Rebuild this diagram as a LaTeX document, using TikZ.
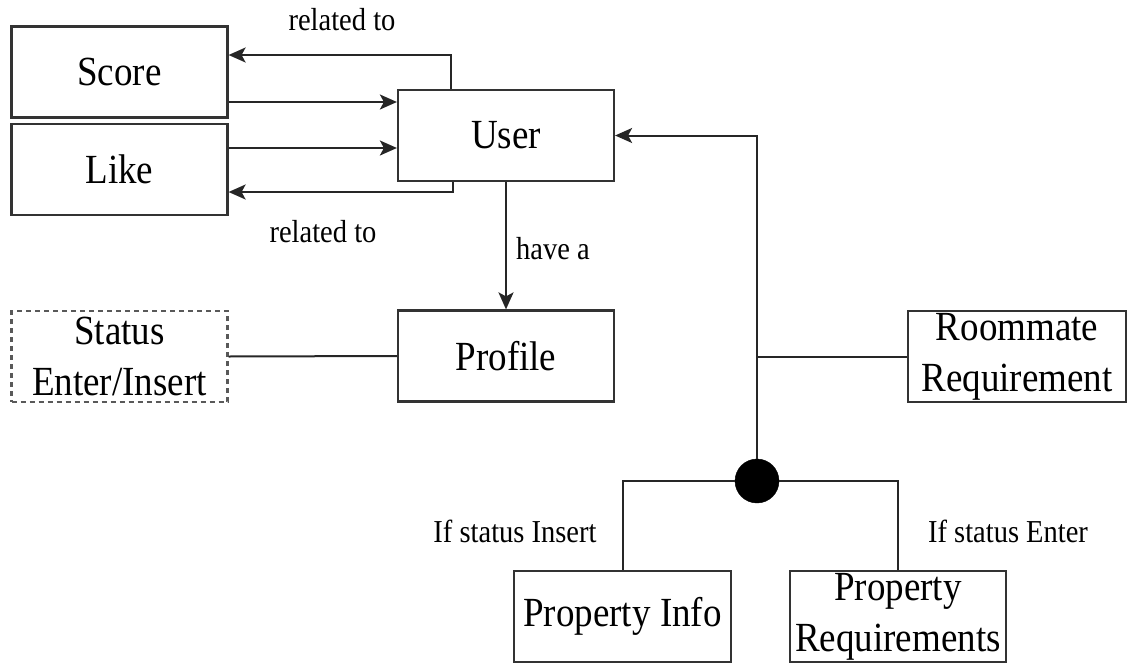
\documentclass[tikz,border=0pt]{standalone}
\usepackage{fontspec}
\setmainfont{Liberation Serif}
\newfontfamily\tnr{Liberation Serif}
\usetikzlibrary{arrows.meta,calc}
\newcommand{\tall}[1]{\scalebox{1}[1.12]{#1}}
\begin{document}
\begin{tikzpicture}[x=1pt,y=-1pt,
  box/.style={draw=black!80,line width=2.2pt,rectangle,minimum width=216pt,minimum height=91pt,
    inner sep=0pt,align=center,font=\tnr\fontsize{37}{51}\selectfont},
  dbox/.style={box,draw=black!65,dash pattern=on 5pt off 4pt},
  lbl/.style={font=\tnr\fontsize{28.5}{34}\selectfont,inner sep=0pt},
  link/.style={draw=black!85,line width=2pt},
  arr/.style={link,-{Stealth[length=17pt,width=15pt,inset=4pt]}}]
\useasboundingbox (0,0) rectangle (1127,664);
% entity boxes
\node[box] (score) at (119.5,72) {\tall{Score}};
\node[box] (like) at (119.5,169.5) {\tall{Like}};
\node[box] (user) at (506,135.5) {\tall{User}};
\node[box] (profile) at (506,356) {\tall{Profile}};
\node[dbox] (status) at (119.5,356.5) {\tall{Status}\\\tall{Enter/Insert}};
\node[box,minimum width=218pt] (room) at (1017,356.5) {\tall{Roommate}\\\tall{Requirement}};
\node[box,minimum width=217pt] (pinfo) at (622.5,616.5) {\tall{Property Info}};
\node[box,minimum width=216pt] (preq) at (898,616.5) {\tall{Property}\\\tall{Requirements}};
% junction point
\node[circle,fill=black,draw=black,inner sep=0pt,minimum width=42pt,minimum height=44pt] (jn) at (757,481) {};
% end points of the parallel arrows
\coordinate (s1) at ($(score.east)+(0,30)$);
\coordinate (l1) at ($(like.east)+(0,-21.5)$);
% score / like relations with user
\draw[arr] ($(user.north)+(-55,0)$) |- ($(score.east)+(0,-17)$);
\draw[arr] (s1) -- (s1 -| user.west);
\draw[arr] (l1) -- (l1 -| user.west);
\draw[arr] ($(user.south)+(-53,0)$) |- ($(like.east)+(0,22.5)$);
\node[lbl] (rel1) at (342,20) {\tall{related to}};
\node[lbl] (rel2) at (323,232) {\tall{related to}};
% user to profile
\draw[arr] (user.south) -- (profile.north);
\node[lbl,anchor=west] (have) at (516,249) {\tall{have a}};
% status to profile
\draw[link] (status.east) -- (profile.west);
% requirements branch
\draw[arr] (jn.north) |- (user.east);
\draw[link] (room.west) -- (room.west -| jn);
\draw[link] (jn.west) -| (pinfo.north);
\draw[link] (jn.east) -| (preq.north);
\node[lbl] (ins) at (515,531) {\tall{If status Insert}};
\node[lbl] (ent) at (1008,531) {\tall{If status Enter}};
\end{tikzpicture}
\end{document}
